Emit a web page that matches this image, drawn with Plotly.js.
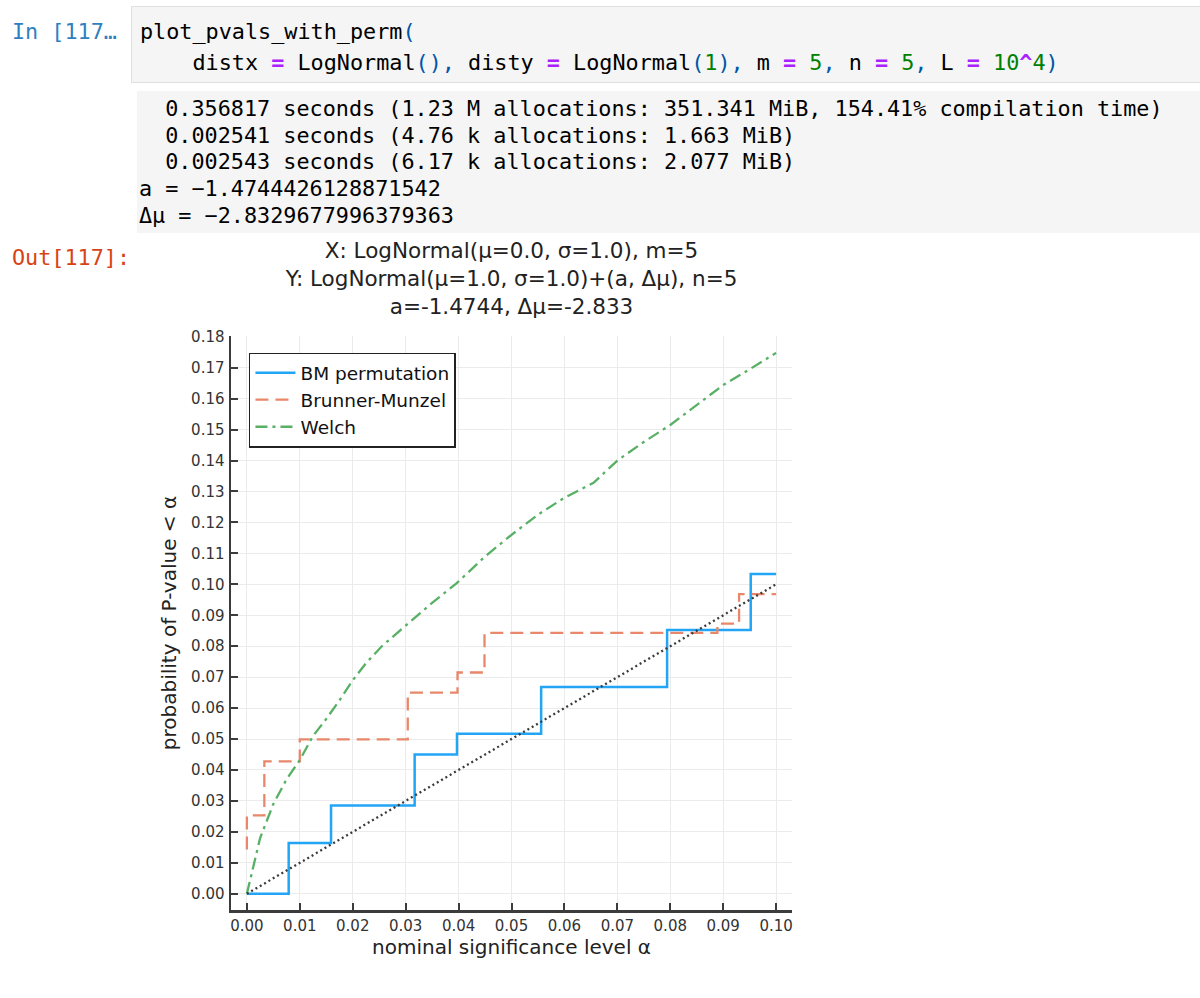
<!DOCTYPE html>
<html>
<head>
<meta charset="utf-8">
<script src="https://cdn.plot.ly/plotly-3.0.1.min.js"></script>
<style>
html,body{margin:0;padding:0;background:#fff;width:1200px;height:998px;overflow:hidden;}
#chart{position:absolute;left:0;top:0;width:1200px;height:998px;z-index:1;}
.nb{position:absolute;font-family:"DejaVu Sans Mono",monospace;font-size:21.8px;line-height:26px;white-space:pre;z-index:2;color:#000;}
.box{position:absolute;z-index:0;}
.kw{color:#aa22ff;font-weight:bold;}
.num{color:#008000;}
.br{color:#0055aa;}
</style>
</head>
<body>
<div class="box" style="left:131px;top:6px;width:1080px;height:75px;background:#f5f5f5;border:1px solid #e0e0e0;"></div>
<div class="box" style="left:137px;top:91px;width:1070px;height:142px;background:#f5f5f5;"></div>
<div id="chart"></div>
<div class="nb" style="left:12px;top:19px;color:#307fc1;">In [117…</div>
<div class="nb" style="left:140px;top:19px;">plot_pvals_with_perm<span class="br">(</span></div>
<div class="nb" style="left:140px;top:50px;">    distx <span class="kw">=</span> LogNormal<span class="br">(),</span> disty <span class="kw">=</span> LogNormal<span class="br">(</span><span class="num">1</span><span class="br">),</span> m <span class="kw">=</span> <span class="num">5</span><span class="br">,</span> n <span class="kw">=</span> <span class="num">5</span><span class="br">,</span> L <span class="kw">=</span> <span class="num">10</span><span class="kw">^</span><span class="num">4</span><span class="br">)</span></div>
<div class="nb" style="left:139px;top:96px;">  0.356817 seconds (1.23 M allocations: 351.341 MiB, 154.41% compilation time)</div>
<div class="nb" style="left:139px;top:123px;">  0.002541 seconds (4.76 k allocations: 1.663 MiB)</div>
<div class="nb" style="left:139px;top:149px;">  0.002543 seconds (6.17 k allocations: 2.077 MiB)</div>
<div class="nb" style="left:139px;top:176px;">a = −1.4744426128871542</div>
<div class="nb" style="left:139px;top:203px;">Δμ = −2.8329677996379363</div>
<div class="nb" style="left:12px;top:245px;color:#d84315;">Out[117]:</div>
<script>
// ---- data ----
const alphaPerm = [0, 0.0079, 0.0159, 0.0317, 0.0397, 0.0556, 0.0794, 0.0952, 0.1];
const probPerm  = [0, 0.0164, 0.0285, 0.0450, 0.0517, 0.0668, 0.0852, 0.1033, 0.1033];

const alphaBM = [0, 0, 0.0033, 0.0100, 0.0304, 0.0398, 0.0449, 0.0889, 0.0930, 0.1];
const probBM  = [0.0143, 0.0253, 0.0428, 0.0499, 0.0650, 0.0715, 0.0843, 0.0873, 0.0968, 0.0968];

const alphaWelch = [0, 0.001, 0.0025, 0.005, 0.0075, 0.01, 0.0125, 0.015, 0.0175, 0.02, 0.0225, 0.0255, 0.03, 0.035, 0.0396, 0.045, 0.05, 0.055, 0.06, 0.0638, 0.0655, 0.07, 0.075, 0.08, 0.085, 0.09, 0.095, 0.1];
const probWelch  = [0, 0.0075, 0.018, 0.029, 0.037, 0.0432, 0.051, 0.0565, 0.0625, 0.069, 0.0745, 0.080, 0.0865, 0.094, 0.1003, 0.109, 0.116, 0.1225, 0.128, 0.1315, 0.1328, 0.140, 0.146, 0.1515, 0.158, 0.1644, 0.1695, 0.1748];

const diagX = [0, 0.1];
const diagY = [0, 0.1];

const seriesNames = ["BM permutation", "Brunner-Munzel", "Welch"];

const xTickVals = [0, 0.01, 0.02, 0.03, 0.04, 0.05, 0.06, 0.07, 0.08, 0.09, 0.10];
const xTickText = ["0.00","0.01","0.02","0.03","0.04","0.05","0.06","0.07","0.08","0.09","0.10"];
const yTickVals = [0,0.01,0.02,0.03,0.04,0.05,0.06,0.07,0.08,0.09,0.10,0.11,0.12,0.13,0.14,0.15,0.16,0.17,0.18];
const yTickText = ["0.00","0.01","0.02","0.03","0.04","0.05","0.06","0.07","0.08","0.09","0.10","0.11","0.12","0.13","0.14","0.15","0.16","0.17","0.18"];

const titleLines = ["X: LogNormal(μ=0.0, σ=1.0), m=5", "Y: LogNormal(μ=1.0, σ=1.0)+(a, Δμ), n=5", "a=-1.4744, Δμ=-2.833"];

// ---- chart ----
const FONT = "DejaVu Sans, sans-serif";
const traces = [
  {x: alphaPerm, y: probPerm, name: seriesNames[0], type: "scatter", mode: "lines",
   line: {shape: "hv", color: "#23a5f5", width: 2.5}},
  {x: alphaBM, y: probBM, name: seriesNames[1], type: "scatter", mode: "lines",
   line: {shape: "hv", color: "#e8876a", width: 2.3, dash: "13px,7px"}},
  {x: alphaWelch, y: probWelch, name: seriesNames[2], type: "scatter", mode: "lines",
   line: {color: "#58b065", width: 2.3, dash: "12px,5px,3px,5px"}},
  {x: diagX, y: diagY, name: "", showlegend: false, type: "scatter", mode: "lines",
   line: {color: "#3a3a3a", width: 2.3, dash: "2px,3px"}}
];

const axisCommon = {
  showgrid: true, gridcolor: "#ebebeb", gridwidth: 1,
  showline: true, linecolor: "#3c3c3c", linewidth: 2.5,
  ticks: "inside", ticklen: 7, tickwidth: 2, tickcolor: "#3c3c3c",
  zeroline: false, automargin: true,
  tickfont: {family: FONT, size: 15, color: "#333"}
};

const layout = {
  width: 1200, height: 998,
  margin: {l: 231, r: 408, t: 336, b: 88},
  paper_bgcolor: "rgba(0,0,0,0)", plot_bgcolor: "#ffffff",
  title: {text: titleLines.join("<br>"), font: {family: FONT, size: 21.5, color: "#222"},
          x: 0.5, xref: "paper", xanchor: "center", y: 1 - 258/998, yref: "container", yanchor: "top",
          pad: {t: 0, b: 0, l: 0, r: 0}},
  xaxis: Object.assign({}, axisCommon, {
    range: [-0.003, 0.103], tickmode: "array", tickvals: xTickVals, ticktext: xTickText,
    ticklabelstandoff: 0,
    title: {text: "nominal significance level α", font: {family: FONT, size: 20, color: "#222"}, standoff: 4}
  }),
  yaxis: Object.assign({}, axisCommon, {
    range: [-0.00525, 0.18025], tickmode: "array", tickvals: yTickVals, ticktext: yTickText,
    ticklabelstandoff: 1,
    title: {text: "probability of P-value < α", font: {family: FONT, size: 20, color: "#222"}, standoff: 9}
  }),
  legend: {x: 0.032, y: 0.971, xanchor: "left", yanchor: "top",
           bgcolor: "#ffffff", bordercolor: "#222", borderwidth: 1.5,
           font: {family: FONT, size: 18.5, color: "#111"}, itemwidth: 40, tracegroupgap: 0},
  showlegend: true
};

Plotly.newPlot("chart", traces, layout, {displayModeBar: false, staticPlot: true});
</script>
</body>
</html>
